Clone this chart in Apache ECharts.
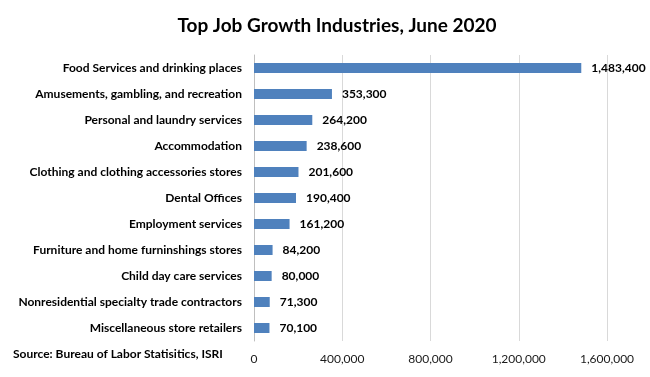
<!DOCTYPE html>
<html>
<head>
<meta charset="utf-8">
<script src="https://cdn.jsdelivr.net/npm/echarts@6/dist/echarts.min.js"></script>
<style>html,body{margin:0;padding:0;background:#fff;}#c{width:650px;height:377px;}</style>
</head>
<body>
<div id="c"></div>
<script>
const categories = [
  "Food Services and drinking places",
  "Amusements, gambling, and recreation",
  "Personal and laundry services",
  "Accommodation",
  "Clothing and clothing accessories stores",
  "Dental Offices",
  "Employment services",
  "Furniture and home furninshings stores",
  "Child day care services",
  "Nonresidential specialty trade contractors",
  "Miscellaneous store retailers"
];
const values = [1483400, 353300, 264200, 238600, 201600, 190400, 161200, 84200, 80000, 71300, 70100];
const xTicks = [0, 400000, 800000, 1200000, 1600000];
const titleText = "Top Job Growth Industries, June 2020";
const sourceText = "Source: Bureau of Labor Statisitics, ISRI";

const fmt = v => v.toLocaleString('en-US');
const chart = echarts.init(document.getElementById('c'), null, {renderer: 'canvas'});
chart.setOption({
  animation: false,
  backgroundColor: '#ffffff',
  title: {
    text: titleText,
    left: 332, top: 11, textAlign: 'center',
    textStyle: {fontFamily: 'Lato', fontWeight: 'bold', fontSize: 19, color: '#000'}
  },
  graphic: [{
    type: 'text', left: 13, top: 348,
    style: {text: sourceText, font: 'bold 12px Lato', fill: '#000'}
  }],
  grid: {left: 254, right: 43, top: 55, bottom: 36, containLabel: false},
  xAxis: {
    type: 'value', min: xTicks[0], max: xTicks[xTicks.length - 1], interval: 400000,
    axisLine: {show: false}, axisTick: {show: false},
    splitLine: {show: true, lineStyle: {color: '#d9d9d9', width: 1}},
    axisLabel: {fontFamily: 'Lato', fontSize: 12, color: '#1a1a1a', margin: 12, formatter: v => fmt(v)}
  },
  yAxis: {
    type: 'category', data: categories, inverse: true,
    axisLine: {show: true, lineStyle: {color: '#bfbfbf'}},
    axisTick: {show: false},
    axisLabel: {fontFamily: 'Lato', fontWeight: 'bold', fontSize: 12, color: '#000', margin: 12}
  },
  series: [{
    type: 'bar', data: values, barWidth: 10,
    itemStyle: {color: '#4f81bd'},
    label: {show: true, position: 'right', distance: 10, fontFamily: 'Lato', fontWeight: 'bold', fontSize: 12, color: '#000', formatter: p => fmt(p.value)}
  }]
});
</script>
</body>
</html>
